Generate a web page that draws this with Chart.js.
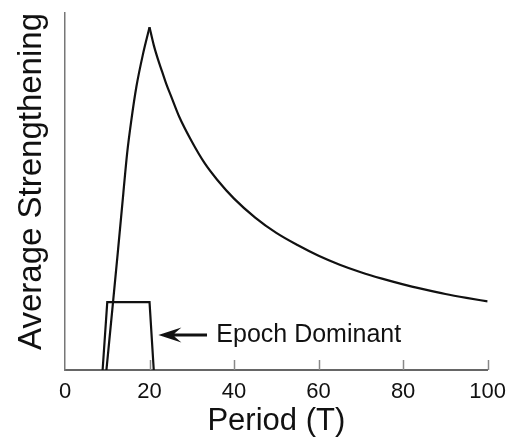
<!DOCTYPE html>
<html>
<head>
<meta charset="utf-8">
<script src="https://cdn.jsdelivr.net/npm/chart.js@4.4.1/dist/chart.umd.min.js"></script>
<style>
  html, body { margin: 0; padding: 0; background: #fff; }
</style>
</head>
<body>
<canvas id="chart" width="515" height="444"></canvas>
<script>
// x axis
const xTicks = [0, 20, 40, 60, 80, 100];

// rising side of the curve, up to the peak at T = 20
const riseT = [9.8, 11.2, 12.5, 13.8, 14.7, 15.7, 16.9, 18.4, 20];
const riseY = [0, 17, 33, 49.5, 60.7, 70, 79.4, 88.2, 96];

// decaying side after the peak
const decayT = [20, 21, 22, 23, 24, 25, 27, 30, 33, 36, 40, 45, 50, 55, 60, 65, 70, 75, 80, 85, 90, 95, 100];
const decayY = [96, 91, 87, 83.5, 80, 77, 71, 64, 58, 53.3, 48, 42.7, 38.4, 35, 32, 29.5, 27.4, 25.6, 24, 22.6, 21.3, 20.2, 19.2];

// "epoch dominant" window
const epochT = [8.9, 10, 20, 21];
const epochY = [0, 19, 19, 0];

const toPoints = (xs, ys) => xs.map((x, i) => ({ x: x, y: ys[i] }));

const lineStyle = {
  borderColor: "#111",
  borderWidth: 2.2,
  pointRadius: 0,
  fill: false,
  showLine: true,
};

// small upward tick marks on the x axis
const innerTicks = {
  id: "innerTicks",
  afterDraw(chart) {
    const { ctx, scales } = chart;
    const x = scales.x;
    ctx.save();
    ctx.strokeStyle = "#888";
    ctx.lineWidth = 1.5;
    xTicks.forEach((t) => {
      if (t === 0) return;
      const px = Math.round(x.getPixelForValue(t)) + 0.5;
      ctx.beginPath();
      ctx.moveTo(px, x.top);
      ctx.lineTo(px, x.top - 10);
      ctx.stroke();
    });
    ctx.restore();
  },
};

// arrow + label pointing at the window
const epochNote = {
  id: "epochNote",
  afterDraw(chart) {
    const { ctx, scales } = chart;
    const tipX = scales.x.getPixelForValue(22.1);
    const tipY = scales.y.getPixelForValue(9.8);
    const endX = scales.x.getPixelForValue(33.6);
    const len = endX - tipX;
    ctx.save();
    ctx.fillStyle = "#111";
    ctx.beginPath();
    ctx.moveTo(tipX, tipY);
    ctx.lineTo(tipX + 23, tipY - 7.5);
    ctx.lineTo(tipX + 16, tipY - 1.6);
    ctx.lineTo(tipX + len, tipY - 1.6);
    ctx.lineTo(tipX + len, tipY + 1.6);
    ctx.lineTo(tipX + 16, tipY + 1.6);
    ctx.lineTo(tipX + 23, tipY + 7.5);
    ctx.closePath();
    ctx.fill();
    ctx.font = '25px "Liberation Sans", Arial, sans-serif';
    ctx.textBaseline = "middle";
    ctx.fillText("Epoch Dominant", scales.x.getPixelForValue(35.8), tipY);
    ctx.restore();
  },
};

new Chart(document.getElementById("chart"), {
  type: "scatter",
  data: {
    datasets: [
      { ...lineStyle, data: toPoints(riseT, riseY), cubicInterpolationMode: "monotone" },
      { ...lineStyle, data: toPoints(decayT, decayY), cubicInterpolationMode: "monotone" },
      { ...lineStyle, data: toPoints(epochT, epochY), tension: 0 },
    ],
  },
  options: {
    responsive: false,
    animation: false,
    devicePixelRatio: 1,
    layout: { padding: { top: 13, right: 25, left: 0, bottom: 0 } },
    plugins: { legend: { display: false }, tooltip: { enabled: false } },
    scales: {
      x: {
        type: "linear",
        min: 0,
        max: 100,
        afterBuildTicks: (scale) => {
          scale.ticks = xTicks.map((v) => ({ value: v }));
        },
        afterFit: (scale) => {
          scale.height = 74;
        },
        grid: { display: false, drawTicks: false },
        border: { display: true, color: "#666", width: 2 },
        ticks: {
          padding: 9,
          color: "#111",
          font: { family: '"Liberation Sans", Arial, sans-serif', size: 22 },
        },
        title: {
          display: true,
          text: "Period (T)",
          color: "#111",
          padding: { top: 0, bottom: 4 },
          font: { family: '"Liberation Sans", Arial, sans-serif', size: 31 },
        },
      },
      y: {
        type: "linear",
        min: 0,
        max: 100,
        afterFit: (scale) => {
          scale.width = 65;
        },
        grid: { display: false, drawTicks: false },
        border: { display: true, color: "#777", width: 1.5 },
        ticks: { display: false },
        title: {
          display: true,
          text: "Average Strengthening",
          align: "end",
          color: "#111",
          padding: { top: 12, bottom: 0 },
          font: { family: '"Liberation Sans", Arial, sans-serif', size: 33 },
        },
      },
    },
  },
  plugins: [innerTicks, epochNote],
});
</script>
</body>
</html>
